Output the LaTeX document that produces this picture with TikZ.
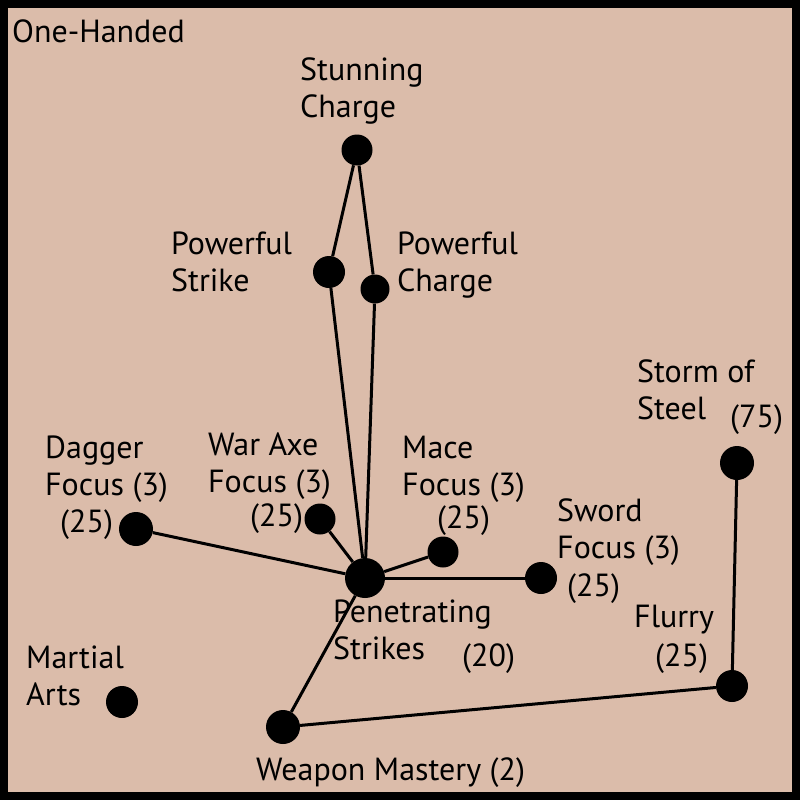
\documentclass[tikz,border=0pt]{standalone}
\usepackage{fontspec}
\setmainfont{PT Sans}
\usepackage{xcolor}
\usetikzlibrary{positioning}
\definecolor{parchment}{RGB}{219,188,170}

\begin{document}
\begin{tikzpicture}[
    x=1pt, y=-1pt,
    perk/.style={circle, fill=black, inner sep=0pt, minimum size=#1},
    perk/.default=32pt,
    lbl/.style={anchor=base west, inner sep=0pt, align=left, font=\fontsize{32}{37}\selectfont},
    link/.style={line width=3pt}
]
\fill[black] (0,0) rectangle (800,800);
\fill[parchment] (8,8) rectangle (792,792);

\node[lbl] (title) at (12,43) {One-Handed};

% perks
\node[perk=31pt] (stunning) at (357,150) {};
\node[perk] (pstrike) at (329,272) {};
\node[perk=29pt] (pcharge) at (375,289) {};
\node[perk=40pt] (pen) at (365,578) {};
\node[perk=31pt] (axe) at (320,519) {};
\node[perk=31pt] (mace) at (443,552) {};
\node[perk=34pt] (dagger) at (136,529) {};
\node[perk] (sword) at (541,578) {};
\node[perk=34pt] (storm) at (737,463) {};
\node[perk] (flurry) at (732,686) {};
\node[perk=34pt] (mastery) at (283,727) {};
\node[perk] (martial) at (122,702) {};

% labels (base = last line)
\node[lbl] (stunninglbl) at (300,117) {Stunning\\Charge};
\node[lbl] (pstrikelbl) at (171,291) {Powerful\\Strike};
\node[lbl] (pchargelbl) at (397,291) {Powerful\\Charge};
\node[lbl] (stormlbl) at (637,419) {Storm of\\Steel};
\node[lbl] (stormcost) at (730,427) {(75)};
\node[lbl] (daggerlbl) at (45,495) {Dagger\\Focus (3)};
\node[lbl] (daggercost) at (60,532) {(25)};
\node[lbl] (axelbl) at (208,492) {War Axe\\Focus (3)};
\node[lbl] (axecost) at (250,526) {(25)};
\node[lbl] (macelbl) at (402,495) {Mace\\Focus (3)};
\node[lbl] (macecost) at (437,528) {(25)};
\node[lbl] (swordlbl) at (557,558) {Sword\\Focus (3)};
\node[lbl] (swordcost) at (567,596) {(25)};
\node[lbl] (penlbl) at (333,659) {Penetrating\\Strikes};
\node[lbl] (pencost) at (462,666) {(20)};
\node[lbl] (flurrylbl) at (634,627) {Flurry};
\node[lbl] (flurrycost) at (655,666) {(25)};
\node[lbl] (martiallbl) at (26,705) {Martial\\Arts};
\node[lbl] (masterylbl) at (256,780) {Weapon Mastery (2)};

% links
\draw[link] (stunning) -- (pstrike);
\draw[link] (stunning) -- (pcharge);
\draw[link] (pstrike) -- (pen);
\draw[link] (pcharge) -- (pen);
\draw[link] (dagger) -- (pen);
\draw[link] (axe) -- (pen);
\draw[link] (mace) -- (pen);
\draw[link] (sword) -- (pen);
\draw[link] (pen) -- (mastery);
\draw[link] (mastery) -- (flurry);
\draw[link] (flurry) -- (storm);
\end{tikzpicture}
\end{document}
